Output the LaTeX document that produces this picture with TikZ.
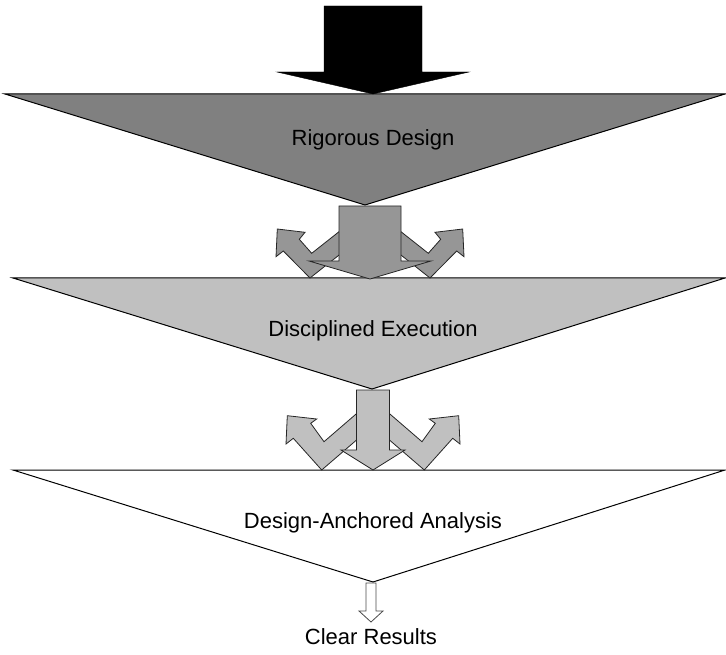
\documentclass[tikz,border=0pt]{standalone}
\usepackage{fontspec}
\setmainfont{Liberation Sans}
\definecolor{gA}{HTML}{808080}
\definecolor{gB}{HTML}{C0C0C0}
\definecolor{gC}{HTML}{969696}
\begin{document}
\begin{tikzpicture}[x=1pt,y=-1pt,
  tri/.style={draw=black, line width=1pt, line join=miter},
  arr/.style={draw=black!85, line width=0.8pt, line join=miter},
  lbl/.style={font=\fontsize{22}{26}\selectfont, text=black, inner sep=0pt}]
\useasboundingbox (0,0) rectangle (726,655);
% stages
\draw[tri, fill=gA] (5,94) -- (725,94) -- (365,205) -- cycle;
\draw[tri, fill=gB] (13,278) -- (725,278) -- (372,389) -- cycle;
\draw[tri, fill=white] (13,470) -- (725,470) -- (373,582) -- cycle;
% top arrow
\draw[fill=black, draw=black, line join=miter] (324,6) -- (422,6) -- (422,72) -- (469,72) -- (373,94) -- (277,72) -- (324,72) -- cycle;
% first arrow group
\draw[arr, fill=gC] (310,278) -- (283.3,251) -- (276,256.7) -- (277.3,229) -- (305,232.3) -- (299.3,239.3) -- (311.7,253.3) -- (347,225.4) -- (345.3,250.1) -- cycle;
\draw[arr, fill=gC] (430,278) -- (456.7,251) -- (464,256.7) -- (462.7,229) -- (435,232.3) -- (440.7,239.3) -- (428.3,253.3) -- (393,225.4) -- (394.7,250.1) -- cycle;
\draw[arr, fill=gC] (339,206) -- (401,206) -- (401,261) -- (431,261) -- (370,279) -- (309,261) -- (339,261) -- cycle;
% second arrow group
\draw[arr, fill=gB] (321.7,470) -- (293.3,438.3) -- (286,444) -- (287.3,415.7) -- (316.7,419) -- (310.7,423.3) -- (324,441.7) -- (361.9,409) -- (359.6,437.4) -- cycle;
\draw[arr, fill=gB] (424.3,470) -- (452.7,438.3) -- (460,444) -- (458.7,415.7) -- (429.3,419) -- (435.3,423.3) -- (422,441.7) -- (384.1,409) -- (386.4,437.4) -- cycle;
\draw[arr, fill=gB] (356.5,390) -- (389.5,390) -- (389.5,450) -- (405,450) -- (373,470) -- (341,450) -- (356.5,450) -- cycle;
% small arrow
\draw[draw=black!70, line width=0.8pt, fill=white, line join=miter] (366,583) -- (376,583) -- (376,611) -- (383,611) -- (371,622) -- (359,611) -- (366,611) -- cycle;
% labels
\node[lbl] (rd) at (373,140) {Rigorous Design};
\node[lbl] (de) at (373,331) {Disciplined Execution};
\node[lbl] (da) at (373,523) {Design-Anchored Analysis};
\node[lbl] (cr) at (371,637) {Clear Results};
\end{tikzpicture}
\end{document}
